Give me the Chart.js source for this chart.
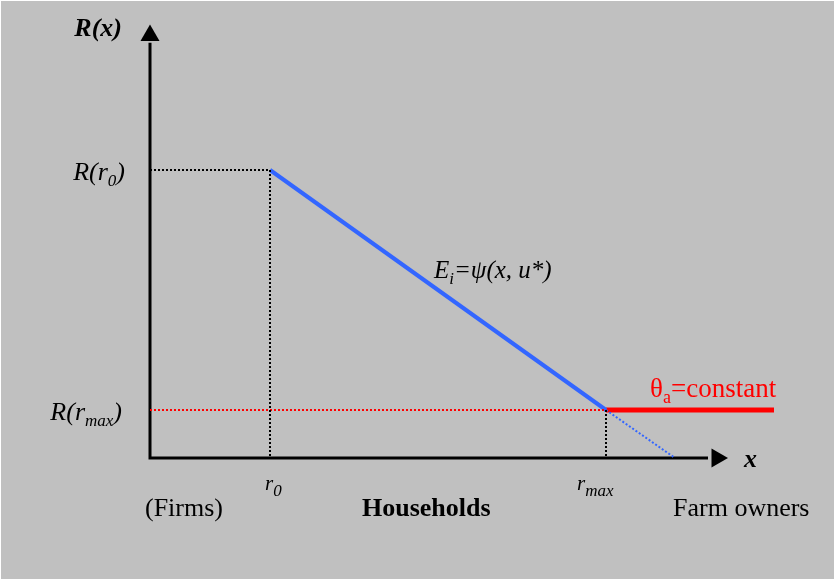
<!DOCTYPE html>
<html>
<head>
<meta charset="utf-8">
<script src="https://cdn.jsdelivr.net/npm/chart.js@4.4.0/dist/chart.umd.min.js"></script>
<style>
  html, body { margin: 0; padding: 0; background: #c0c0c0; }
  #wrap { width: 833px; height: 578px; border-top: 1px solid #fff; border-left: 1px solid #fff; }
  canvas { display: block; }
</style>
</head>
<body>
<div id="wrap"><canvas id="chart" width="833" height="578"></canvas></div>
<script>
// points clés du graphique (unités abstraites)
const xKeys = [0, 2, 7.6];          // origine, r0, rmax
const bidRent = [6, 1];             // R(r0), R(rmax) sur la droite E_i
const agriRent = [1, 1];            // rente agricole constante
const agriX = [7.6, 10.4];
const extensionX = [7.6, 8.75];     // prolongement pointillé de E_i
const extensionY = [1, 0];
const axisEnds = [9.45, 8.8];       // pointes des flèches x et y

const serif = '"Liberation Serif", "Times New Roman", serif';

function pts(xs, ys) {
  return xs.map((x, i) => ({ x: x, y: ys[i] }));
}

function lineSet(data, color, width, dash) {
  return {
    data: data,
    showLine: true,
    borderColor: color,
    borderWidth: width,
    borderDash: dash || [],
    pointRadius: 0,
    clip: false,
    borderCapStyle: 'butt'
  };
}

// texte avec indices : parts = [[texte, police, indice?], ...]
function drawParts(ctx, parts, x, y, color) {
  ctx.fillStyle = color || '#000';
  ctx.textAlign = 'left';
  ctx.textBaseline = 'alphabetic';
  let cx = x;
  parts.forEach(p => {
    ctx.font = p[1];
    ctx.fillText(p[0], cx, y + (p[2] ? 6 : 0));
    cx += ctx.measureText(p[0]).width;
  });
  return cx - x;
}

function partsWidth(ctx, parts) {
  let w = 0;
  parts.forEach(p => { ctx.font = p[1]; w += ctx.measureText(p[0]).width; });
  return w;
}

const labelsPlugin = {
  id: 'labels',
  afterDatasetsDraw(chart) {
    const ctx = chart.ctx;
    const xs = chart.scales.x, ys = chart.scales.y;
    const x0 = xs.getPixelForValue(xKeys[0]);
    const xr0 = xs.getPixelForValue(xKeys[1]);
    const xrm = xs.getPixelForValue(xKeys[2]);
    const yR0 = ys.getPixelForValue(bidRent[0]);
    const yRm = ys.getPixelForValue(bidRent[1]);
    const yBase = ys.getPixelForValue(0);
    ctx.save();

    const it = 'italic 26px ' + serif;
    const sub = 'italic 17px ' + serif;

    // R(x)
    let p = [['R(x)', 'bold italic 26px ' + serif]];
    drawParts(ctx, p, x0 - 28 - partsWidth(ctx, p), ys.getPixelForValue(axisEnds[1]));

    // R(r0), R(rmax)
    p = [['R(r', it], ['0', sub, true], [')', it]];
    drawParts(ctx, p, x0 - 25 - partsWidth(ctx, p), yR0 + 10);
    p = [['R(r', it], ['max', sub, true], [')', it]];
    drawParts(ctx, p, x0 - 28 - partsWidth(ctx, p), yRm + 10);

    // x
    drawParts(ctx, [['x', 'bold italic 26px ' + serif]], xs.getPixelForValue(axisEnds[0]) + 27, yBase + 9);

    // r0, rmax
    drawParts(ctx, [['r', 'italic 21px ' + serif], ['0', sub, true]], xr0 - 5, yBase + 32);
    drawParts(ctx, [['r', 'italic 21px ' + serif], ['max', sub, true]], xrm - 29, yBase + 32);

    // E_i = psi(x, u*)
    drawParts(ctx, [['E', 'italic 25px ' + serif], ['i', 'italic 17px ' + serif, true],
      ['=\u03C8(x, u*)', 'italic 25px ' + serif]], 433, 277);

    // theta_a = constant
    drawParts(ctx, [['\u03B8', '27px ' + serif], ['a', '18px ' + serif, true], ['=constant', '27px ' + serif]],
      xrm + 44, yRm - 13, '#ff0000');

    // groupes
    drawParts(ctx, [['(Firms)', '26px ' + serif]], x0 - 5, yBase + 58);
    drawParts(ctx, [['Households', 'bold 26px ' + serif]], 361, yBase + 58);
    drawParts(ctx, [['Farm owners', '26px ' + serif]], 672, yBase + 58);

    ctx.restore();
  }
};

new Chart(document.getElementById('chart'), {
  type: 'scatter',
  data: {
    datasets: [
      // pointillés de repère
      lineSet(pts([xKeys[0], xKeys[1], xKeys[1]], [bidRent[0], bidRent[0], 0]), '#000', 2, [2, 2]),
      lineSet(pts([xKeys[2], xKeys[2]], [bidRent[1], 0]), '#000', 2, [2, 2]),
      lineSet(pts([xKeys[0], xKeys[2]], [bidRent[1], bidRent[1]]), '#ff0000', 2, [2, 2]),
      lineSet(pts(extensionX, extensionY), '#3366ff', 2, [2, 2]),
      // axes
      lineSet(pts([0, 0, axisEnds[0] - 0.15], [axisEnds[1] - 0.15, 0, 0]), '#000', 3),
      {
        data: [{ x: 0, y: axisEnds[1] }],
        pointStyle: 'triangle', pointRadius: 11, pointRotation: 0,
        backgroundColor: '#000', borderColor: '#000', borderWidth: 0, clip: false
      },
      {
        data: [{ x: axisEnds[0], y: 0 }],
        pointStyle: 'triangle', pointRadius: 11, pointRotation: 90,
        backgroundColor: '#000', borderColor: '#000', borderWidth: 0, clip: false
      },
      // courbes
      lineSet(pts([xKeys[1], xKeys[2]], bidRent), '#3366ff', 4),
      lineSet(pts(agriX, agriRent), '#ff0000', 5)
    ]
  },
  options: {
    responsive: false,
    animation: false,
    events: [],
    layout: { autoPadding: false, padding: { left: 149, right: 36, top: 1, bottom: 121 } },
    plugins: { legend: { display: false }, tooltip: { enabled: false } },
    scales: {
      x: { type: 'linear', min: 0, max: 10.8, display: false },
      y: { type: 'linear', min: 0, max: 9.5, display: false }
    }
  },
  plugins: [labelsPlugin]
});
</script>
</body>
</html>
